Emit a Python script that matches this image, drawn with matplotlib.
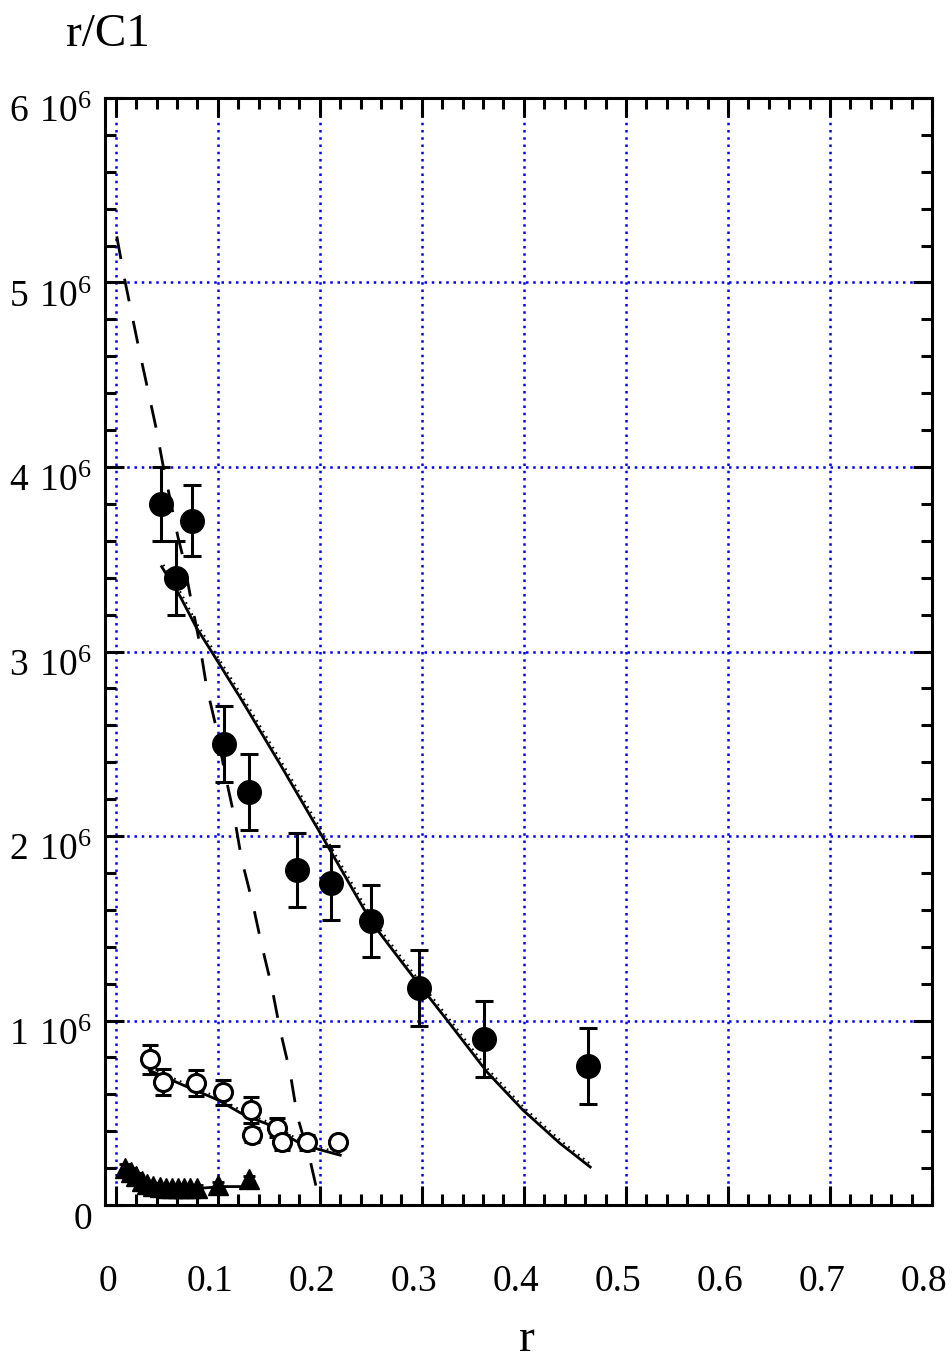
"""
r/C1 versus r : data points with fitted curves
"""

import numpy as np
import matplotlib
matplotlib.use("Agg")
import matplotlib.pyplot as plt
from matplotlib import transforms
from matplotlib.ticker import FuncFormatter, MultipleLocator

plt.rcParams['font.family'] = ['Liberation Serif', 'DejaVu Serif']
plt.rcParams['mathtext.default'] = 'regular'

## Data (y in units of 10^6)
# filled circles
r_full = [0.044, 0.059, 0.0745, 0.106, 0.131, 0.178, 0.211, 0.250, 0.297, 0.361, 0.463]
y_full = [3.80, 3.40, 3.71, 2.50, 2.24, 1.815, 1.745, 1.54, 1.175, 0.90, 0.753]
e_full = [0.20, 0.20, 0.195, 0.205, 0.205, 0.20, 0.20, 0.195, 0.205, 0.205, 0.205]

# open circles
r_open = [0.034, 0.046, 0.079, 0.105, 0.133, 0.134, 0.158, 0.163, 0.187, 0.218]
y_open = [0.79, 0.665, 0.66, 0.61, 0.515, 0.38, 0.42, 0.34, 0.34, 0.34]
e_open = [0.08, 0.07, 0.07, 0.07, 0.07, 0.04, 0.05, 0.04, 0.04, 0.03]

# filled triangles
r_tri = [0.009, 0.015, 0.020, 0.026, 0.031, 0.037, 0.043, 0.049, 0.055, 0.061, 0.067, 0.073, 0.080, 0.100, 0.131]
y_tri = [0.20, 0.18, 0.155, 0.13, 0.115, 0.105, 0.10, 0.095, 0.095, 0.095, 0.095, 0.095, 0.095, 0.11, 0.14]
e_tri = [0.02, 0.02, 0.02, 0.015, 0.015, 0.015, 0.015, 0.015, 0.015, 0.015, 0.015, 0.015, 0.015, 0.015, 0.02]

# curves
r_fit_hi = [0.045, 0.063, 0.079, 0.095, 0.122, 0.161, 0.200, 0.251, 0.291, 0.325, 0.364, 0.399, 0.435, 0.465]
y_fit_hi = [3.46, 3.30, 3.13, 2.99, 2.75, 2.39, 2.02, 1.53, 1.24, 1.00, 0.72, 0.515, 0.336, 0.206]

r_fit_lo = [0.033, 0.066, 0.100, 0.122, 0.134, 0.148, 0.180, 0.200, 0.220]
y_fit_lo = [0.73, 0.65, 0.57, 0.50, 0.47, 0.44, 0.336, 0.30, 0.27]

r_fit_tri = [0.009, 0.020, 0.035, 0.050, 0.080, 0.105, 0.125, 0.131]
y_fit_tri = [0.20, 0.155, 0.115, 0.095, 0.09, 0.10, 0.10, 0.13]

r_dash = [0.001, 0.009, 0.022, 0.031, 0.040, 0.046, 0.061, 0.066, 0.0745, 0.082, 0.089, 0.099,
          0.107, 0.116, 0.1235, 0.134, 0.143, 0.153, 0.161, 0.171, 0.178, 0.190, 0.198]
y_dash = [5.25, 5.01, 4.66, 4.43, 4.20, 4.02, 3.62, 3.51, 3.26, 3.05, 2.81, 2.575,
          2.34, 2.11, 1.87, 1.64, 1.41, 1.18, 0.95, 0.715, 0.48, 0.255, 0.06]

xticks = [0, 0.1, 0.2, 0.3, 0.4, 0.5, 0.6, 0.7, 0.8]
xtick_labels = ['0', '0.1', '0.2', '0.3', '0.4', '0.5', '0.6', '0.7', '0.8']
yticks = [0, 1, 2, 3, 4, 5, 6]

fig = plt.figure(figsize=(9.53, 13.61), dpi=100)
ax = fig.add_axes([0.1102, 0.1146, 0.8678, 0.8134])

hairy = transforms.offset_copy(ax.transData, fig=fig, x=1.3, y=1.3, units='points')

# curves
ax.plot(r_fit_hi, y_fit_hi, color='k', lw=2.0, zorder=3)
ax.plot(r_fit_hi, y_fit_hi, color='k', lw=1.5, ls=(0, (0.8, 2.2)), transform=hairy, zorder=3)
ax.plot(r_fit_lo, y_fit_lo, color='k', lw=2.0, zorder=3)
ax.plot(r_fit_lo, y_fit_lo, color='k', lw=1.5, ls=(0, (0.8, 2.2)), transform=hairy, zorder=3)
ax.plot(r_fit_tri, y_fit_tri, color='k', lw=2.0, zorder=3)
ax.plot(r_dash, y_dash, color='k', lw=2.0, ls=(0, (8.3, 7.2)), zorder=3)

# points
ax.errorbar(r_full, y_full, yerr=e_full, fmt='o', color='k', ms=17, elinewidth=2.2,
            capsize=6.5, capthick=2.2, zorder=4)
ax.errorbar(r_open, y_open, yerr=e_open, fmt='o', color='k', mfc='white', mew=2.2, ms=13,
            elinewidth=2.2, capsize=6, capthick=2.2, zorder=4)
ax.errorbar(r_tri, y_tri, yerr=e_tri, fmt='^', color='k', ms=14, elinewidth=2,
            capsize=4, capthick=2, zorder=4)

# axes
ax.set_xlim(-0.0105, 0.8)
ax.set_ylim(0, 6)
ax.set_xticks(xticks)
ax.set_xticklabels(xtick_labels)
ax.xaxis.set_minor_locator(MultipleLocator(0.02))
ax.set_yticks(yticks)
ax.yaxis.set_minor_locator(MultipleLocator(0.2))
ax.yaxis.set_major_formatter(FuncFormatter(lambda v, p: '0' if v == 0 else r'$%d\ 10^{6}$' % v))

ax.tick_params(which='both', direction='in', top=True, right=True, width=2.2)
ax.tick_params(which='major', length=14)
ax.tick_params(which='minor', length=8)
ax.tick_params(axis='x', which='major', pad=43, labelsize=27)
ax.tick_params(axis='y', which='major', pad=9, labelsize=27)
for s in ax.spines.values():
  s.set_linewidth(2.2)

ax.grid(True, which='major', color='blue', lw=1.8, ls=(0, (1.0, 1.9)))
ax.set_axisbelow(True)

# shift tick labels a little like the original
for lab in ax.get_xticklabels():
  lab.set_transform(lab.get_transform() + transforms.ScaledTranslation(-0.08, 0, fig.dpi_scale_trans))
for lab in ax.get_yticklabels():
  lab.set_transform(lab.get_transform() + transforms.ScaledTranslation(0, -0.11, fig.dpi_scale_trans))

fig.text(108 / 953, 1 - 35 / 1361, 'r/C1', fontsize=34, ha='center', va='center')
fig.text(527 / 953, 1 - 1340 / 1361, 'r', fontsize=34, ha='center', va='center')

fig.savefig('out.png', dpi=100)
